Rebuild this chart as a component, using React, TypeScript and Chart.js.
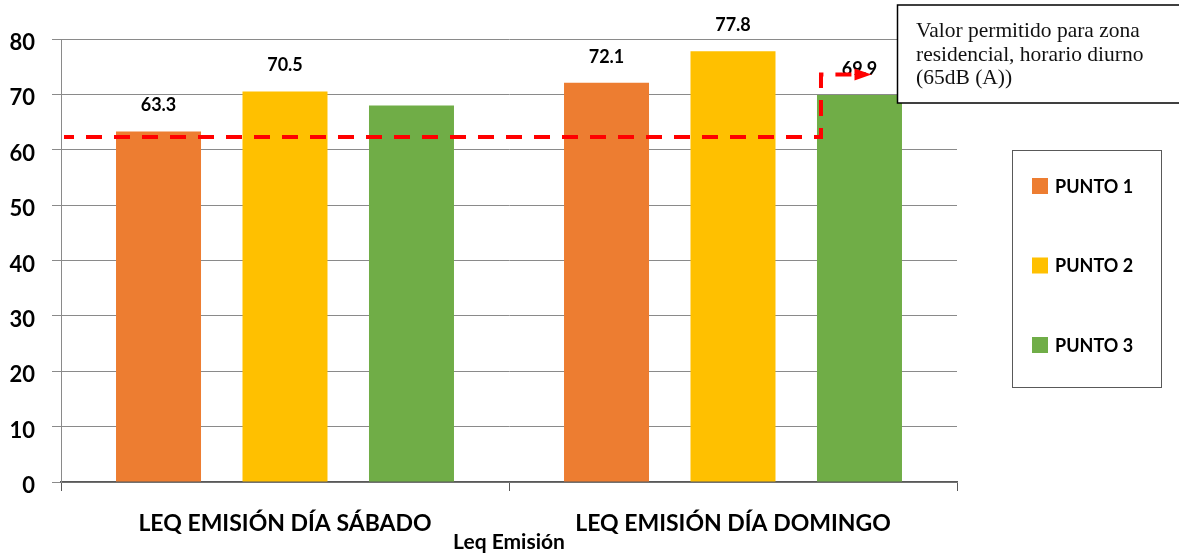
import { useEffect, useRef } from "react";
import { Chart, registerables } from "chart.js";

Chart.register(...registerables);

const categories = ["LEQ EMISIÓN DÍA SÁBADO", "LEQ EMISIÓN DÍA DOMINGO"];
const seriesNames = ["PUNTO 1", "PUNTO 2", "PUNTO 3"];
const punto1 = [63.3, 72.1];
const punto2 = [70.5, 77.8];
const punto3 = [68.0, 69.9];
const punto1Labels = [true, true];
const punto2Labels = [true, true];
const punto3Labels = [false, true];
const seriesColors = ["#ED7D31", "#FFC000", "#70AD47"];
const yMin = 0;
const yMax = 80;
const yStep = 10;
const limitValue = 62.3;
const arrowValue = 73.6;
const noteLines = ["Valor permitido para zona", "residencial, horario diurno", "(65dB (A))"];
const axisTitle = "Leq Emisión";

const FONT = "Lato, 'Open Sans', sans-serif";

const overlayPlugin = {
  id: "overlay",
  afterDatasetsDraw(chart: any) {
    const ctx = chart.ctx;
    const area = chart.chartArea;
    ctx.save();
    // value labels
    ctx.font = `bold 18px ${FONT}`;
    ctx.fillStyle = "#000";
    ctx.textAlign = "center";
    ctx.textBaseline = "middle";
    chart.data.datasets.forEach((ds: any, i: number) => {
      const meta = chart.getDatasetMeta(i);
      meta.data.forEach((bar: any, j: number) => {
        if (!ds.showLabel[j]) return;
        ctx.fillText(Number(ds.data[j]).toFixed(1), bar.x, bar.y - 26);
      });
    });
    // limit line with arrow
    const ys = chart.scales.y;
    const yL = ys.getPixelForValue(limitValue);
    const yA = ys.getPixelForValue(arrowValue);
    const kneeBar = chart.getDatasetMeta(2).data[1];
    const kneeX = kneeBar.x - kneeBar.width / 2 + 4;
    const headEnd = kneeBar.x + 12;
    ctx.strokeStyle = "#FF0000";
    ctx.fillStyle = "#FF0000";
    ctx.lineWidth = 4;
    ctx.setLineDash([16, 12]);
    ctx.lineDashOffset = 6;
    ctx.beginPath();
    ctx.moveTo(area.left + 3, yL);
    ctx.lineTo(kneeX, yL);
    ctx.lineTo(kneeX, yA);
    ctx.lineTo(headEnd - 15, yA);
    ctx.stroke();
    ctx.setLineDash([]);
    ctx.beginPath();
    ctx.moveTo(headEnd - 17, yA - 6);
    ctx.lineTo(headEnd, yA);
    ctx.lineTo(headEnd - 17, yA + 6);
    ctx.closePath();
    ctx.fill();
    ctx.restore();
  },
  afterDraw(chart: any) {
    const ctx = chart.ctx;
    ctx.save();
    // note box
    ctx.fillStyle = "#fff";
    ctx.fillRect(897.5, 5, 300, 98);
    ctx.strokeStyle = "#000";
    ctx.lineWidth = 1.5;
    ctx.strokeRect(897.5, 5, 300, 98);
    ctx.fillStyle = "#111";
    ctx.font = "21.5px 'Liberation Serif', 'Times New Roman', serif";
    ctx.textAlign = "left";
    ctx.textBaseline = "alphabetic";
    noteLines.forEach((t, i) => ctx.fillText(t, 916, 37 + i * 23.5));
    // legend
    ctx.strokeStyle = "#595959";
    ctx.lineWidth = 1;
    ctx.strokeRect(1012.5, 150.5, 149, 237);
    ctx.font = `bold 18px ${FONT}`;
    ctx.textBaseline = "middle";
    chart.data.datasets.forEach((ds: any, i: number) => {
      const cy = 186 + i * 79.5;
      ctx.fillStyle = ds.backgroundColor;
      ctx.fillRect(1032, cy - 8, 16, 16);
      ctx.fillStyle = "#000";
      ctx.fillText(ds.label, 1055, cy + 1);
    });
    ctx.restore();
  },
};

export default function App() {
  const ref = useRef<HTMLCanvasElement>(null);
  useEffect(() => {
    document.body.style.margin = "0";
    const values = [punto1, punto2, punto3];
    const labels = [punto1Labels, punto2Labels, punto3Labels];
    const chart = new Chart(ref.current as HTMLCanvasElement, {
      type: "bar",
      data: {
        labels: categories,
        datasets: seriesNames.map((name, i) => ({
          label: name,
          data: values[i],
          backgroundColor: seriesColors[i],
          borderWidth: 0,
          categoryPercentage: 0.847,
          barPercentage: 0.672,
          showLabel: labels[i],
        })) as any,
      },
      options: {
        animation: false,
        responsive: false,
        devicePixelRatio: 1,
        layout: { padding: { top: 39, right: 222, bottom: 0, left: 0 } },
        plugins: { legend: { display: false }, tooltip: { enabled: false }, title: { display: false } },
        scales: {
          x: {
            grid: {
              display: true,
              drawOnChartArea: false,
              drawTicks: true,
              tickLength: 9,
              color: "#595959",
            },
            border: { display: true, color: "#595959", width: 1.5 },
            ticks: {
              color: "#000",
              font: { family: FONT, size: 23, weight: "bold" },
              padding: 19,
              maxRotation: 0,
            },
            title: {
              display: true,
              text: axisTitle,
              color: "#000",
              font: { family: FONT, size: 21, weight: "bold" },
              padding: { top: 0, bottom: 0 },
            },
            afterFit: (s: any) => {
              s.height = 73;
            },
          },
          y: {
            min: yMin,
            max: yMax,
            ticks: {
              stepSize: yStep,
              color: "#000",
              font: { family: FONT, size: 22, weight: "bold" },
              padding: 17,
              labelOffset: 4,
            },
            grid: { color: "#8a8a8a", tickLength: 9, lineWidth: 1 },
            border: { display: true, color: "#8a8a8a", width: 1 },
            afterFit: (s: any) => {
              s.width = 61;
            },
          },
        },
      },
      plugins: [overlayPlugin],
    });
    return () => chart.destroy();
  }, []);
  return (
    <div style={{ position: "absolute", left: 0, top: 0, width: 1179, height: 555, background: "#fff" }}>
      <canvas ref={ref} width={1179} height={555} style={{ display: "block" }} />
    </div>
  );
}
